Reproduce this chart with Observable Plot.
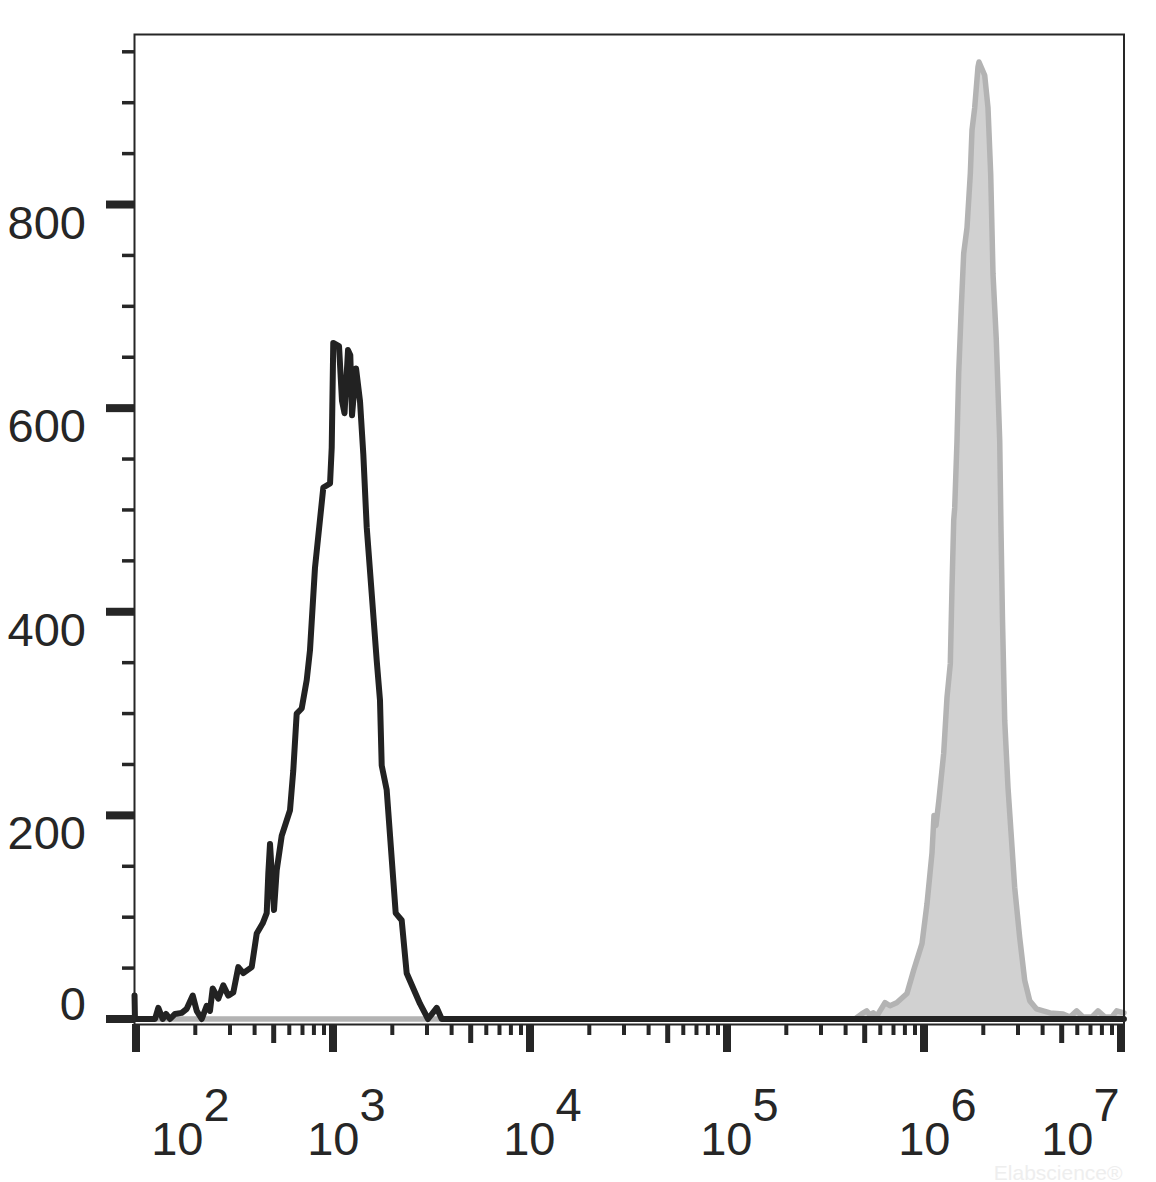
<!DOCTYPE html>
<html>
<head>
<meta charset="utf-8">
<script src="https://cdn.jsdelivr.net/npm/d3@7"></script>
<script src="https://cdn.jsdelivr.net/npm/@observablehq/plot@0.6"></script>
<style>
  html, body { margin: 0; padding: 0; background: #ffffff; }
  #chart svg { display: block; }
</style>
</head>
<body>
<div id="chart"></div>
<script>
// ---- Data ----
// Control histogram (black outline): fluorescence intensity and event count
const controlX = [98.3, 98.8, 124.9, 129.8, 136.6, 142.0, 148.8, 157.8, 170.6, 180.9,
  194.1, 203.3, 215.6, 228.5, 237.4, 245.1, 261.7, 277.4, 294.1, 311.8,
  330.6, 350.5, 386.7, 410.0, 439.7, 460.8, 469.5, 478.9, 501.8, 517.9,
  549.1, 605.0, 628.6, 654.1, 693.5, 735.6, 764, 810, 893, 966,
  985, 1003, 1073, 1111, 1144, 1192, 1224, 1249, 1309, 1371,
  1425, 1483, 1572, 1667, 1732, 1767, 1873, 2024, 2081, 2232,
  2366, 2764, 3035, 3361, 3563, 10350000];
const controlCount = [23, 0, 0, 11, 0, 5, 0, 5, 6, 10,
  23, 8, 0, 13, 8, 30, 20, 33, 23, 26,
  51, 45, 51, 84, 94, 104, 143, 172, 107, 146,
  180, 205, 244, 300, 305, 333, 362, 443, 522, 526,
  561, 664, 661, 607, 595, 657, 652, 593, 639, 607,
  555, 483, 418, 352, 313, 249, 225, 136, 104, 97,
  45, 15, 0, 11, 0, 0];

// Stained histogram (grey filled)
const stainedX = [98.3, 446300, 482800, 511900, 531900, 552800, 577200, 597800, 633800, 672000,
  726700, 819600, 886600, 976800, 1035600, 1098000, 1124000, 1150500, 1191800, 1258900,
  1308600, 1360000, 1387300, 1415300, 1431700, 1470600, 1500000, 1546400, 1590400, 1653000,
  1718000, 1752600, 1808700, 1879600, 1901800, 2032700, 2112800, 2180500, 2240000, 2328000,
  2423000, 2460000, 2503000, 2569000, 2670000, 2775000, 2887000, 3060000, 3245000, 3440000,
  3717000, 4362000, 5077000, 5510000, 5959000, 6413000, 7125000, 7641000, 8294000, 9001000,
  9510000, 10350000];
const stainedCount = [0, 0, 5, 8, 4, 6, 3, 8, 16, 13,
  16, 25, 48, 74, 113, 163, 200, 190, 216, 261,
  316, 349, 424, 490, 502, 568, 634, 699, 752, 777,
  830, 873, 895, 935, 940, 927, 895, 830, 732, 667,
  568, 480, 392, 293, 227, 179, 129, 80, 38, 18,
  10, 6, 5, 2, 8, 2, 2, 8, 2, 2,
  8, 6];

// Axis labels
const yTickLabels = [0, 200, 400, 600, 800];
const xDecades = [2, 3, 4, 5, 6, 7];
const xMinorMultipliers = [2, 3, 4, 6, 7, 8, 9];
const xMidMultiplier = 5;
const watermark = "Elabscience\u00AE";

// ---- Build tables ----
const control = controlX.map((x, i) => ({x, count: controlCount[i]}));
const stained = stainedX.map((x, i) => ({x, count: stainedCount[i]}));

const xMajor = xDecades.map(p => 10 ** p);
const xMid = xDecades.slice(0, -1).map(p => xMidMultiplier * 10 ** p);
const xMinor = xDecades.slice(0, -1).flatMap(p => xMinorMultipliers.map(m => m * 10 ** p));
const yMinor = d3.range(50, 967, 50).filter(v => v % 200 !== 0);

const ink = "#262626";
const font = "'Liberation Sans', Arial, Helvetica, sans-serif";
const labelSize = 47;

// per-label horizontal offsets of the "10^n" labels (layout)
const xLabelShift = [67.5, 26.5, 25.5, 25.5, 26.5, -27.5];

const xLabelMarks = xDecades.flatMap((p, i) => [
  Plot.text([p], {
    x: d => 10 ** d, text: () => "10",
    frameAnchor: "bottom", textAnchor: "end", lineAnchor: "bottom",
    dx: xLabelShift[i], dy: 130, fontSize: labelSize, fill: ink
  }),
  Plot.text([p], {
    x: d => 10 ** d, text: d => String(d),
    frameAnchor: "bottom", textAnchor: "start", lineAnchor: "bottom",
    dx: xLabelShift[i], dy: 96, fontSize: labelSize, fill: ink
  })
]);

const chart = Plot.plot({
  width: 1156,
  height: 1182,
  marginLeft: 134,
  marginRight: 32.5,
  marginTop: 34,
  marginBottom: 158,
  x: {type: "log", domain: [98.26, 1.0357e7]},
  y: {domain: [0, 967], insetBottom: 5.5},
  style: {fontFamily: font, background: "#ffffff", color: ink, overflow: "visible"},
  marks: [
    // stained (grey, filled)
    Plot.areaY(stained, {x: "x", y: "count", fill: "#d1d1d1", curve: "linear"}),
    Plot.line(stained, {x: "x", y: "count", stroke: "#b3b3b3", strokeWidth: 5.5, curve: "linear"}),
    // control (black outline)
    Plot.line(control, {x: "x", y: "count", stroke: "#222222", strokeWidth: 6, curve: "linear"}),
    // frame
    Plot.frame({stroke: ink, strokeWidth: 2}),
    // x ticks
    Plot.axisX({ticks: xMajor, anchor: "bottom", tickSize: 28, strokeWidth: 8, stroke: ink, fill: "none"}),
    Plot.axisX({ticks: xMid, anchor: "bottom", tickSize: 19, strokeWidth: 5, stroke: ink, fill: "none"}),
    Plot.axisX({ticks: xMinor, anchor: "bottom", tickSize: 11, strokeWidth: 4, stroke: ink, fill: "none"}),
    // y ticks
    Plot.axisY({ticks: yTickLabels, anchor: "left", tickSize: 28, strokeWidth: 8, stroke: ink, fill: "none"}),
    Plot.axisY({ticks: yMinor, anchor: "left", tickSize: 12, strokeWidth: 3.5, stroke: ink, fill: "none"}),
    // watermark (faint, just below the label row)
    Plot.text([watermark], {
      text: d => d, frameAnchor: "bottom-right", textAnchor: "end", lineAnchor: "bottom",
      dx: -1.5, dy: 155, fontSize: 21, fill: "#eeeeee"
    }),
    // y labels
    Plot.text(yTickLabels.filter(v => v > 0), {
      y: d => d, text: d => String(d), frameAnchor: "left",
      textAnchor: "end", lineAnchor: "bottom", dx: -48.5, dy: 34,
      fontSize: labelSize, fill: ink
    }),
    Plot.text(yTickLabels.filter(v => v === 0), {
      y: d => d, text: d => String(d), frameAnchor: "left",
      textAnchor: "end", lineAnchor: "bottom", dx: -48.5, dy: 1,
      fontSize: labelSize, fill: ink
    }),
    // x labels
    ...xLabelMarks
  ]
});

document.getElementById("chart").appendChild(chart);
</script>
</body>
</html>
